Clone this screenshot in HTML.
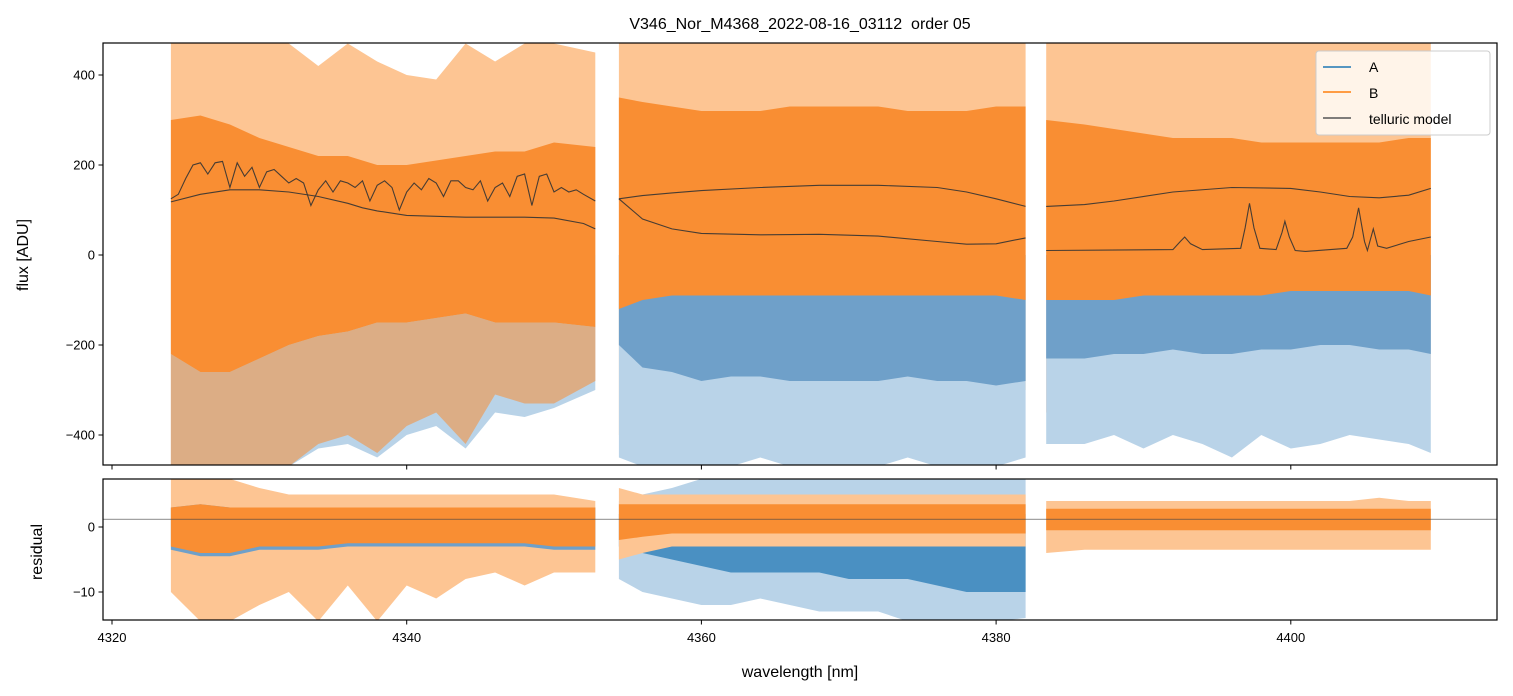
<!DOCTYPE html>
<html><head><meta charset="utf-8"><style>
body{margin:0;background:#fff;}
svg{display:block;font-family:"Liberation Sans","DejaVu Sans",sans-serif;}
</style></head><body>
<svg id="chart" width="1513" height="696" viewBox="0 0 1513 696" xmlns="http://www.w3.org/2000/svg">
<defs>
<clipPath id="clipTop"><rect x="103" y="43" width="1394" height="422"/></clipPath>
<clipPath id="clipBot"><rect x="103" y="479" width="1394" height="141"/></clipPath>
</defs>
<rect width="1513" height="696" fill="#fff"/>
<text x="800" y="29" font-size="16" text-anchor="middle" fill="#000">V346_Nor_M4368_2022-08-16_03112 &#160;order 05</text>
<g id="topMarks" clip-path="url(#clipTop)"></g>
<g id="botMarks" clip-path="url(#clipBot)"></g>
<g id="axes"></g>
<text transform="translate(28,255) rotate(-90)" font-size="16" text-anchor="middle">flux [ADU]</text>
<text transform="translate(42,552) rotate(-90)" font-size="16" text-anchor="middle">residual</text>
<text x="800" y="677" font-size="16" text-anchor="middle">wavelength [nm]</text>
<g>
<rect x="1316" y="51" width="174" height="84" rx="3" fill="#fff" fill-opacity="0.8" stroke="#ccc"/>
<line x1="1323" y1="67" x2="1351" y2="67" stroke="#1f77b4" stroke-width="1.5"/>
<text x="1369" y="72" font-size="14">A</text>
<line x1="1323" y1="92" x2="1351" y2="92" stroke="#ff7f0e" stroke-width="1.5"/>
<text x="1369" y="98" font-size="14">B</text>
<line x1="1323" y1="118" x2="1351" y2="118" stroke="#555" stroke-width="1.5"/>
<text x="1369" y="124" font-size="14">telluric model</text>
</g>
</svg>
<script>
// ---- data ----
const w1=[4324,4326,4328,4330,4332,4334,4336,4338,4340,4342,4344,4346,4348,4350,4352.8];
const w2=[4354.4,4356,4358,4360,4362,4364,4366,4368,4370,4372,4374,4376,4378,4380,4382];
const w3=[4383.4,4386,4388,4390,4392,4394,4396,4398,4400,4402,4404,4406,4408,4409.5];
const o1OutHi=[470,470,470,470,470,420,470,430,400,390,470,430,470,470,450];
const o1CoreHi=[300,310,290,260,240,220,220,200,200,210,220,230,230,250,240];
const o1CoreLo=[-220,-260,-260,-230,-200,-180,-170,-150,-150,-140,-130,-150,-150,-150,-160];
const o1OutLo=[-470,-470,-470,-470,-470,-420,-400,-440,-380,-350,-420,-310,-330,-330,-280];
const b1OutLo=[-470,-470,-470,-470,-470,-430,-420,-450,-400,-380,-430,-350,-360,-340,-300];
const b1CoreLo=[-220,-260,-260,-230,-200,-180,-170,-150,-150,-140,-130,-150,-150,-150,-160];
const o2OutHi=[470,470,470,470,470,470,470,470,470,470,470,470,470,470,470];
const o2CoreHi=[350,340,330,320,320,320,330,330,330,330,320,320,320,330,330];
const o2CoreLo=[-120,-100,-90,-90,-90,-90,-90,-90,-90,-90,-90,-90,-90,-90,-100];
const o2OutLo=[-400,-380,-350,-330,-350,-320,-330,-350,-330,-330,-330,-350,-330,-320,-300];
const b2OutLo=[-450,-470,-470,-470,-470,-450,-470,-470,-470,-470,-450,-470,-470,-470,-450];
const b2CoreLo=[-200,-250,-260,-280,-270,-270,-280,-280,-280,-280,-270,-280,-280,-290,-280];
const o3OutHi=[470,470,470,470,470,470,470,470,470,470,470,470,470,470];
const o3CoreHi=[300,290,280,270,260,260,260,250,250,250,250,250,260,260];
const o3CoreLo=[-100,-100,-100,-90,-90,-90,-90,-90,-80,-80,-80,-80,-80,-90];
const o3OutLo=[-350,-330,-320,-330,-300,-320,-300,-280,-300,-290,-280,-290,-300,-300];
const b3OutLo=[-420,-420,-400,-430,-400,-420,-450,-400,-430,-420,-400,-410,-420,-440];
const b3CoreLo=[-230,-230,-220,-220,-210,-220,-220,-210,-210,-200,-200,-210,-210,-220];
// residuals
const ro1OutHi=[7.4,7.4,7.4,6,5,5,5,5,5,5,5,5,5,5,4];
const ro1CoreHi=[3,3.5,3,3,3,3,3,3,3,3,3,3,3,3,3];
const ro1CoreLo=[-3,-4,-4,-3,-3,-3,-2.5,-2.5,-2.5,-2.5,-2.5,-2.5,-2.5,-3,-3];
const ro1OutLo=[-10,-14.5,-14.5,-12,-10,-14.5,-9,-14.5,-9,-11,-8,-7,-9,-7,-7];
const rb1CoreLo=[-3.5,-4.5,-4.5,-3.5,-3.5,-3.5,-3,-3,-3,-3,-3,-3,-3,-3.5,-3.5];
const rb2OutHi=[4,5,6,7.4,7.4,7.4,7.4,7.4,7.4,7.4,7.4,7.4,7.4,7.4,7.4];
const rb2CoreHi=[2,2,2,2,2,2,2,2,2,2,2,2,2,2,2];
const rb2CoreLo=[-3,-4,-5,-6,-7,-7,-7,-7,-8,-8,-8,-9,-10,-10,-10];
const rb2OutLo=[-8,-10,-11,-12,-12,-11,-12,-13,-13,-13,-14.5,-14.5,-14.5,-14.5,-14];
const ro2OutHi=[6,5,5,5,5,5,5,5,5,5,5,5,5,5,5];
const ro2CoreHi=[3.5,3.5,3.5,3.5,3.5,3.5,3.5,3.5,3.5,3.5,3.5,3.5,3.5,3.5,3.5];
const ro2CoreLo=[-2,-1.5,-1,-1,-1,-1,-1,-1,-1,-1,-1,-1,-1,-1,-1];
const ro2OutLo=[-5,-4,-3,-3,-3,-3,-3,-3,-3,-3,-3,-3,-3,-3,-3];
const ro3OutHi=[4,4,4,4,4,4,4,4,4,4,4,4.5,4,4];
const ro3CoreHi=[2.8,2.8,2.8,2.8,2.8,2.8,2.8,2.8,2.8,2.8,2.8,2.8,2.8,2.8];
const ro3CoreLo=[-0.5,-0.5,-0.5,-0.5,-0.5,-0.5,-0.5,-0.5,-0.5,-0.5,-0.5,-0.5,-0.5,-0.5];
const ro3OutLo=[-4,-3.5,-3.5,-3.5,-3.5,-3.5,-3.5,-3.5,-3.5,-3.5,-3.5,-3.5,-3.5,-3.5];
// telluric
const tw1=[4324,4324.5,4325,4325.5,4326,4326.5,4327,4327.5,4328,4328.5,4329,4329.5,4330,4330.5,4331,4331.5,4332,4332.5,4333,4333.5,4334,4334.5,4335,4335.5,4336,4336.5,4337,4337.5,4338,4338.5,4339,4339.5,4340,4340.5,4341,4341.5,4342,4342.5,4343,4343.5,4344,4344.5,4345,4345.5,4346,4346.5,4347,4347.5,4348,4348.5,4349,4349.5,4350,4350.5,4351,4351.5,4352,4352.8];
const tv1=[125,135,170,200,205,180,205,208,150,205,175,195,150,185,190,175,160,170,160,110,145,165,140,165,160,150,165,120,155,165,150,100,140,160,145,170,160,130,165,165,150,145,165,120,150,160,130,175,180,110,175,180,140,150,140,145,135,120];
const sw1=[4324,4326,4328,4330,4332,4334,4336,4337,4338,4340,4344,4348,4350,4352,4352.8];
const sv1a=[118,135,145,145,140,130,115,105,98,88,84,84,82,70,58];
const sw2=[4354.4,4356,4358,4360,4364,4368,4372,4376,4378,4380,4382];
const sv2a=[125,132,138,143,150,155,155,150,140,125,108];
const sv2b=[125,80,58,48,45,46,42,30,24,25,38];
const sw3=[4383.4,4386,4388,4392,4396,4400,4402,4404,4406,4408,4409.5];
const sv3a=[108,112,120,140,150,148,140,130,127,133,148];
const tw3=[4383.4,4392,4392.5,4392.8,4393.2,4394,4396.6,4396.9,4397.2,4397.5,4397.9,4399,4399.4,4399.6,4399.9,4400.3,4401,4403.8,4404.2,4404.6,4405,4405.2,4405.6,4405.9,4406.5,4408,4409.5];
const tv3=[10,12,30,40,25,12,15,60,115,60,15,12,50,75,40,10,8,15,40,105,30,10,58,20,15,30,40];

// ---- scales ----
const X=w=>112+(w-4320)*14.735;
const YT=v=>255-v*0.45;
const YB=v=>527-v*6.5;
const NS="http://www.w3.org/2000/svg";
function mk(tag,attrs,parent){const e=document.createElementNS(NS,tag);for(const k in attrs)e.setAttribute(k,attrs[k]);parent.appendChild(e);return e;}
const topG=document.getElementById('topMarks'),botG=document.getElementById('botMarks'),axesG=document.getElementById('axes');
function band(parent,w,hi,lo,Y,color,name,op){
  let d='M'+w.map((x,i)=>X(x).toFixed(1)+','+Y(hi[i]).toFixed(1)).join('L');
  d+='L'+w.slice().reverse().map((x,i)=>X(x).toFixed(1)+','+Y(lo[lo.length-1-i]).toFixed(1)).join('L')+'Z';
  const p=mk('path',{d:d,fill:color,'fill-opacity':op==null?1:op},parent);
  
  
}
function line(parent,w,v,Y,name){
  const p=mk('polyline',{points:w.map((x,i)=>X(x).toFixed(1)+','+Y(v[i]).toFixed(1)).join(' '),fill:'none',stroke:'#333','stroke-width':1.1,'stroke-opacity':0.9},parent);
  
  
}
const BO='#b9d3e8',BC='#6fa0c9',OO='#fdc593',OC='#f98e33';
const c=(n,v)=>Array(n).fill(v);
// top panel
band(topG,w1,o1OutHi,o1OutLo,YT,OO,'series-b-spikes-seg1');
band(topG,w2,o2OutHi,o2OutLo,YT,OO,'series-b-spikes-seg2');
band(topG,w3,o3OutHi,o3OutLo,YT,OO,'series-b-spikes-seg3');
band(topG,w1,c(15,0),b1OutLo,YT,BO,'series-a-spikes-seg1');
band(topG,w2,c(15,0),b2OutLo,YT,BO,'series-a-spikes-seg2');
band(topG,w2,c(15,0),b2CoreLo,YT,BC,'series-a-core-seg2');
band(topG,w3,c(14,0),b3OutLo,YT,BO,'series-a-spikes-seg3');
band(topG,w3,c(14,0),b3CoreLo,YT,BC,'series-a-core-seg3');
band(topG,w1,o1CoreLo,o1OutLo,YT,OC,'series-b-low-spikes-seg1',0.55);
band(topG,w1,o1CoreHi,o1CoreLo,YT,OC,'series-b-core-seg1');
band(topG,w2,o2CoreHi,o2CoreLo,YT,OC,'series-b-core-seg2');
band(topG,w3,o3CoreHi,o3CoreLo,YT,OC,'series-b-core-seg3');
line(topG,tw1,tv1,YT,'telluric-upper-seg1');
line(topG,sw1,sv1a,YT,'telluric-smooth-seg1');
line(topG,sw2,sv2a,YT,'telluric-upper-seg2');
line(topG,sw2,sv2b,YT,'telluric-lower-seg2');
line(topG,sw3,sv3a,YT,'telluric-upper-seg3');
line(topG,tw3,tv3,YT,'telluric-lower-seg3');
// bottom panel
band(botG,w1,ro1OutHi,ro1OutLo,YB,OO,'residual-b-spikes-seg1');
band(botG,w3,ro3OutHi,ro3OutLo,YB,OO,'residual-b-spikes-seg3');
band(botG,w1,ro1CoreHi,rb1CoreLo,YB,BC,'residual-a-seg1');
band(botG,w2,rb2OutHi,rb2OutLo,YB,BO,'residual-a-spikes-seg2');
band(botG,w2,rb2CoreHi,rb2CoreLo,YB,'#4a90c2','residual-a-core-seg2');
band(botG,w1,ro1CoreHi,ro1CoreLo,YB,OC,'residual-b-core-seg1');
band(botG,w2,ro2OutHi,ro2OutLo,YB,OO,'residual-b-spikes-seg2');
band(botG,w2,ro2CoreHi,ro2CoreLo,YB,OC,'residual-b-core-seg2');
band(botG,w3,ro3CoreHi,ro3CoreLo,YB,OC,'residual-b-core-seg3');
const zl=mk('line',{x1:103,x2:1497,y1:YB(1.2),y2:YB(1.2),stroke:'#444','stroke-width':0.7},botG);


// axes frames
const f1=mk('rect',{x:103,y:43,width:1394,height:422,fill:'none',stroke:'#000','stroke-width':1.2},axesG);


const f2=mk('rect',{x:103,y:479,width:1394,height:141,fill:'none',stroke:'#000','stroke-width':1.2},axesG);


const xTicks=[4320,4340,4360,4380,4400];
const yTicksTop=[400,200,0,-200,-400];
const yTicksBot=[0,-10];
xTicks.forEach(t=>{
  mk('line',{x1:X(t),x2:X(t),y1:465,y2:469.5,stroke:'#000'},axesG);
  mk('line',{x1:X(t),x2:X(t),y1:620,y2:624.5,stroke:'#000'},axesG);
  const tx=mk('text',{x:X(t),y:642,'font-size':13,'text-anchor':'middle'},axesG);
  tx.textContent=t;
  
  
});
yTicksTop.forEach(t=>{
  mk('line',{x1:98.5,x2:103,y1:YT(t),y2:YT(t),stroke:'#000'},axesG);
  const tx=mk('text',{x:95,y:YT(t)+4.5,'font-size':13,'text-anchor':'end'},axesG);
  tx.textContent=t<0?'\u2212'+(-t):t;
  
  
});
yTicksBot.forEach(t=>{
  mk('line',{x1:98.5,x2:103,y1:YB(t),y2:YB(t),stroke:'#000'},axesG);
  const tx=mk('text',{x:95,y:YB(t)+4.5,'font-size':13,'text-anchor':'end'},axesG);
  tx.textContent=t<0?'\u2212'+(-t):t;
  
  
});
</script>
</body></html>
